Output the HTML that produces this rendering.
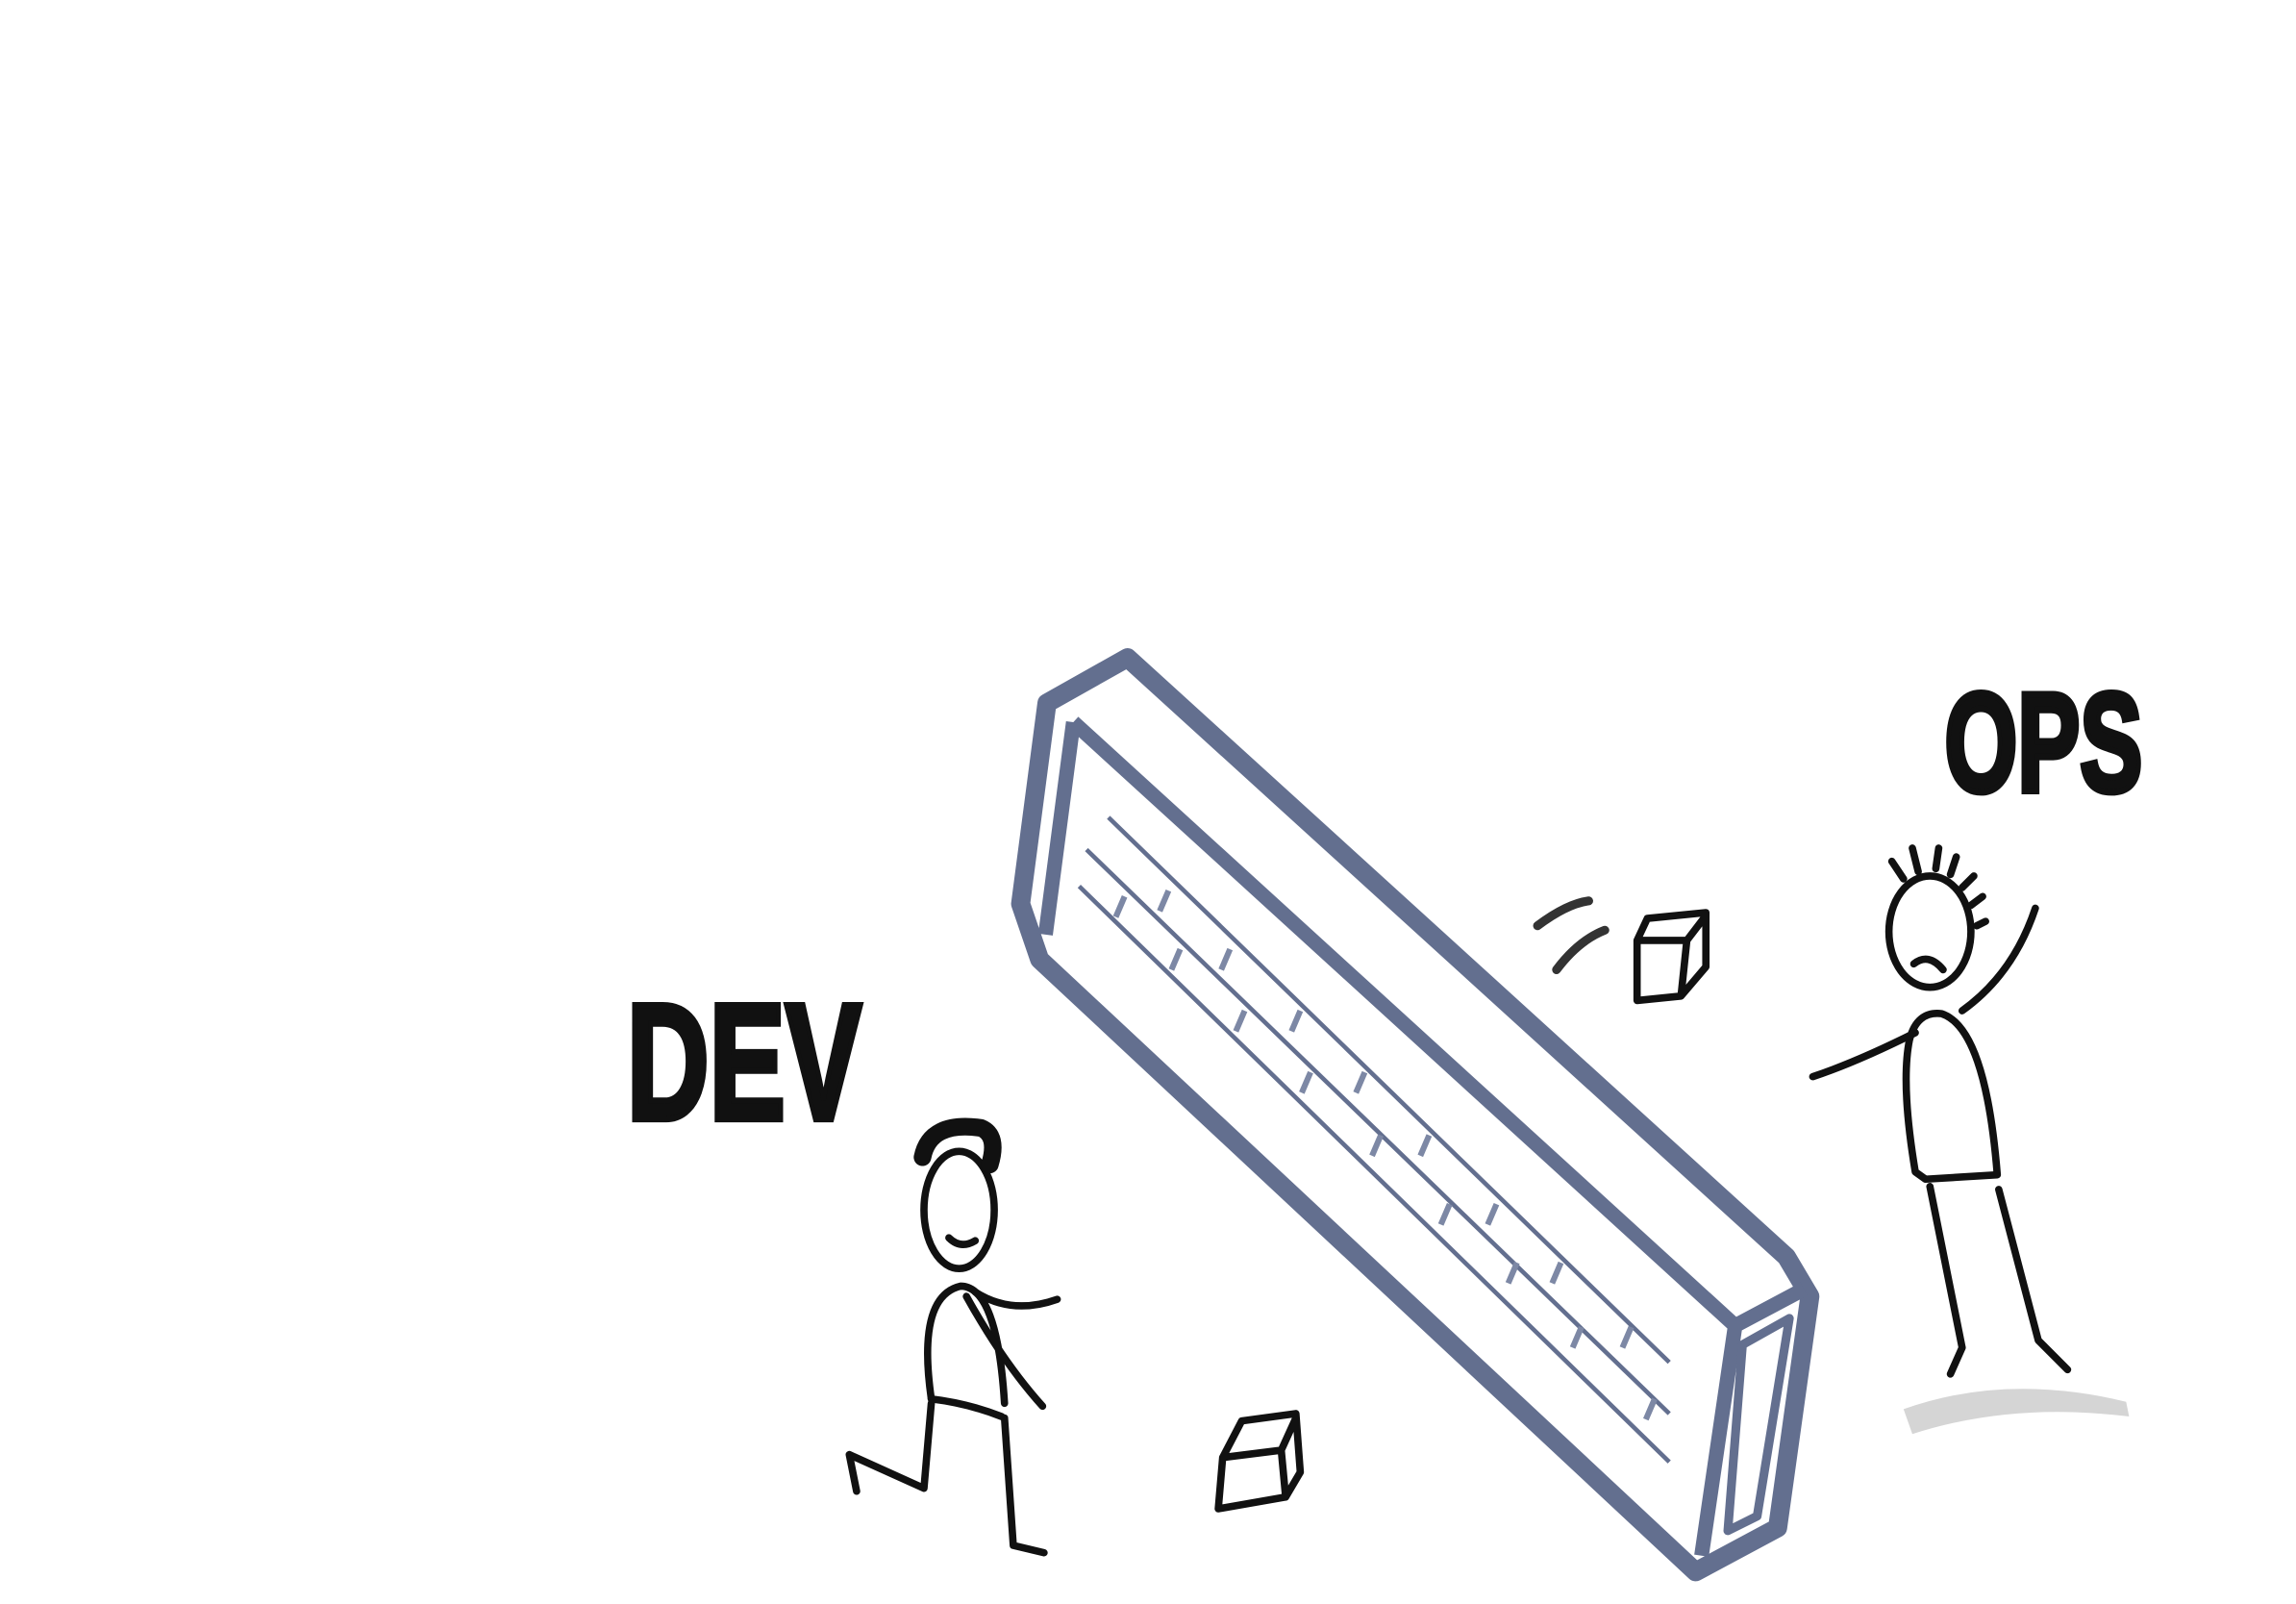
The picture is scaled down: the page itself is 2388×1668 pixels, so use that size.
<!DOCTYPE html>
<html><head><meta charset="utf-8"><style>html,body{margin:0;padding:0;background:#fff}svg{display:block}</style></head>
<body>
<svg width="2388" height="1668" viewBox="0 0 1568 1095" preserveAspectRatio="none" xmlns="http://www.w3.org/2000/svg">
<rect width="1568" height="1095" fill="#fff"/>
<g fill="none" stroke="#636f8f" stroke-linejoin="round">
<path d="M715,480 L770,449 L1220,858 L1236,885 L1214,1043 L1158,1073 L710,655 L697,617 Z" stroke-width="13"/>
<path d="M733,493 L1185,905 M1185,905 L1232,880 M1185,905 L1162,1062 M733,493 L714,638" stroke-width="10"/>
<path d="M1190,918 L1222,900 L1200,1035 L1180,1045 Z" stroke-width="6"/>
<path d="M757,558 L1140,930 M742,580 L1140,965 M737,605 L1140,998" stroke-width="3"/>
<g stroke-width="4" stroke="#7d88a5">
<path d="M768,612 l-6,14 M798,608 l-6,14 M806,648 l-6,14 M840,648 l-6,14 M850,690 l-6,14 M888,690 l-6,14 M895,732 l-6,14 M932,732 l-6,14 M943,775 l-6,14 M976,775 l-6,14 M990,822 l-6,14 M1022,822 l-6,14 M1036,862 l-6,14 M1066,862 l-6,14 M1080,906 l-6,14 M1114,906 l-6,14 M1130,955 l-6,14"/>
</g>
</g>
<g transform="translate(428,764) scale(1,1.45)">
<text x="0" y="0" font-family="Liberation Sans, sans-serif" font-weight="900" font-size="78" fill="#111" stroke="#111" stroke-width="3">DEV</text>
</g>
<g transform="translate(1328,540) scale(1,1.5)">
<text x="0" y="0" font-family="Liberation Sans, sans-serif" font-weight="900" font-size="64" fill="#111" stroke="#111" stroke-width="3">OPS</text>
</g>
<g fill="none" stroke="#111" stroke-width="5" stroke-linecap="round" stroke-linejoin="round">
<ellipse cx="655" cy="826" rx="24" ry="40"/>
<path d="M630,790 q5,-25 40,-20 q12,5 6,25" stroke-width="12"/>
<path d="M648,845 q8,8 18,2"/>
<path d="M636,955 q-10,-70 20,-77 q25,0 30,80"/>
<path d="M666,882 q25,16 56,5"/>
<path d="M660,885 q25,45 52,75"/>
<path d="M636,955 q25,3 48,12"/>
<path d="M636,958 L631,1016 L580,993 L585,1018"/>
<path d="M686,968 L692,1055 L713,1060"/>
<path d="M835,995 L848,970 L885,965 L888,1005 L878,1022 L832,1030 Z M835,995 L875,990 L878,1022 M875,990 L885,968"/>
<ellipse cx="1318" cy="636" rx="28" ry="38"/>
<path d="M1300,600 l-8,-12 M1310,595 l-4,-16 M1322,593 l2,-14 M1332,597 l4,-12 M1340,606 l8,-8 M1346,618 l8,-6 M1350,632 l6,-3"/>
<path d="M1307,658 q10,-8 20,4"/>
<path d="M1308,800 q-10,-60 -4,-90 q5,-20 22,-18 q30,10 38,110 L1315,805 Z"/>
<path d="M1308,705 q-40,20 -70,30"/>
<path d="M1340,690 q35,-25 50,-70"/>
<path d="M1318,810 L1340,920 L1332,938 M1365,812 L1392,915 L1412,935"/>
<path d="M1118,642 L1125,627 L1165,623 L1165,660 L1148,680 L1118,683 Z M1118,642 L1152,642 L1148,680 M1152,642 L1165,625" />
<path d="M1050,632 q20,-15 35,-17 M1063,662 q15,-20 33,-27" stroke-width="6" stroke="#333"/>
</g>
<path d="M1300,962 q70,-25 152,-5 l2,10 q-80,-10 -148,12 Z" fill="#d5d5d5"/>
</svg>
</body></html>
